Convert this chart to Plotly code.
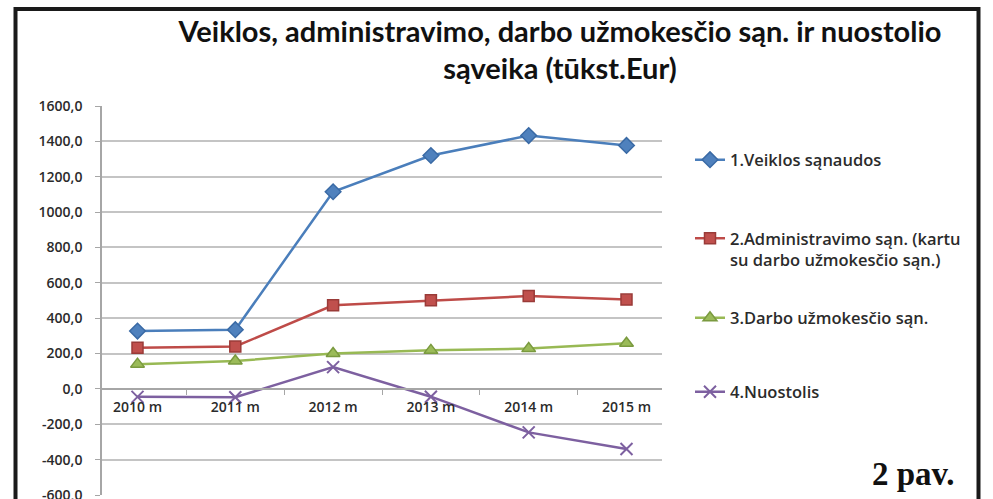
import plotly.graph_objects as go

# ---- data ----
years = ["2010 m", "2011 m", "2012 m", "2013 m", "2014 m", "2015 m"]
veiklos = [327, 335, 1115, 1320, 1433, 1377]
administravimo = [233, 240, 473, 501, 525, 505]
darbo = [140, 158, 200, 218, 228, 258]
nuostolis = [-45, -47, 123, -44, -246, -340]

series_names = [
    "1.Veiklos sąnaudos",
    "2.Administravimo sąn. (kartu<br>su darbo užmokesčio sąn.)",
    "3.Darbo užmokesčio sąn.",
    "4.Nuostolis",
]
y_tickvals = [-600, -400, -200, 0, 200, 400, 600, 800, 1000, 1200, 1400, 1600]
y_ticktext = ["-600,0", "-400,0", "-200,0", "0,0", "200,0", "400,0", "600,0",
              "800,0", "1000,0", "1200,0", "1400,0", "1600,0"]
y_min, y_max = -600, 1600

title_text = "Veiklos, administravimo, darbo užmokesčio sąn. ir nuostolio<br>sąveika (tūkst.Eur)"
note_text = "2 pav."

# ---- figure ----
W, H = 993, 499
ML, MR, MT, MB = 102, 331, 106, 4
plot_h = H - MT - MB
plot_w = W - ML - MR


def px_x(px):
    return (px - ML) / plot_w


def px_y(py):
    return (H - MB - py) / plot_h


styles = [
    dict(color="#4a7ebb", symbol="diamond", size=12, fill="#4f81bd", edge="#3a6aa5"),
    dict(color="#be4b48", symbol="square", size=11, fill="#c0504d", edge="#9a3b38"),
    dict(color="#98b954", symbol="triangle-up", size=12, fill="#9bbb59", edge="#7a9a3f"),
    dict(color="#7d60a0", symbol="x-thin", size=12, fill="#7d60a0", edge="#7d60a0"),
]
values = [veiklos, administravimo, darbo, nuostolis]
legend_ids = ["legend", "legend2", "legend3", "legend4"]
legend_y_px = [160, 249, 318, 392]

fig = go.Figure()
for name, vals, st, lid in zip(series_names, values, styles, legend_ids):
    fig.add_trace(go.Scatter(
        x=years, y=vals, name=name, mode="lines+markers",
        line=dict(color=st["color"], width=2.5),
        marker=dict(symbol=st["symbol"], size=st["size"], color=st["fill"],
                    line=dict(color=st["edge"], width=1.5 if st["symbol"] != "x-thin" else 2)),
        legend=lid,
    ))

legend_font = dict(family="Open Sans, sans-serif", size=16.5, color="#2b2b2b", weight=600)
leg_common = dict(x=px_x(690), xanchor="left", font=legend_font,
                  bgcolor="rgba(0,0,0,0)", borderwidth=0, itemwidth=30)
layout_legends = {}
for lid, ypx in zip(legend_ids, legend_y_px):
    if lid == "legend2":
        layout_legends[lid] = dict(leg_common, y=px_y(ypx), yanchor="middle", valign="top")
    else:
        layout_legends[lid] = dict(leg_common, y=px_y(ypx), yanchor="middle")

zero_pos = (0 - y_min) / (y_max - y_min)
tick_font = dict(family="Open Sans, sans-serif", size=14, color="#2b2b2b", weight=600)

fig.update_layout(
    width=W, height=H,
    margin=dict(l=ML, r=MR, t=MT, b=MB, pad=0, autoexpand=False),
    paper_bgcolor="white", plot_bgcolor="white",
    showlegend=True,
    title=dict(text=title_text, x=560 / W, xanchor="center",
               y=1 - 41.5 / H, yanchor="middle",
               font=dict(family="Lato, sans-serif", size=29, color="#111111", weight="bold")),
    xaxis=dict(type="category", anchor="free", position=zero_pos, automargin=False,
               showline=True, linecolor="#a6a6a6", linewidth=1.5,
               ticks="outside", tickson="boundaries", ticklen=5, tickcolor="#a6a6a6",
               showgrid=False, ticklabelstandoff=6,
               tickfont=tick_font),
    yaxis=dict(range=[y_min, y_max], tickvals=y_tickvals, ticktext=y_ticktext,
               automargin=False,
               showline=True, linecolor="#a6a6a6", linewidth=1.5,
               ticks="outside", ticklen=5, tickcolor="#a6a6a6",
               showgrid=True, gridcolor="#c4c4c4", gridwidth=1.5, zeroline=False,
               tickfont=tick_font, ticklabelstandoff=10,
               ticklabeloverflow="allow"),
    **layout_legends,
    shapes=[dict(type="rect", xref="paper", yref="paper",
                 x0=px_x(15.5), x1=px_x(978.5), y0=px_y(540), y1=px_y(9),
                 line=dict(color="#1a1a1a", width=4), layer="above")],
    annotations=[dict(text=note_text, xref="paper", yref="paper",
                      x=px_x(957), y=px_y(474), xanchor="right", yanchor="middle",
                      showarrow=False,
                      font=dict(family="Liberation Serif, serif", size=33,
                                color="#111111", weight="bold"))],
)

fig.write_html("out.html")
